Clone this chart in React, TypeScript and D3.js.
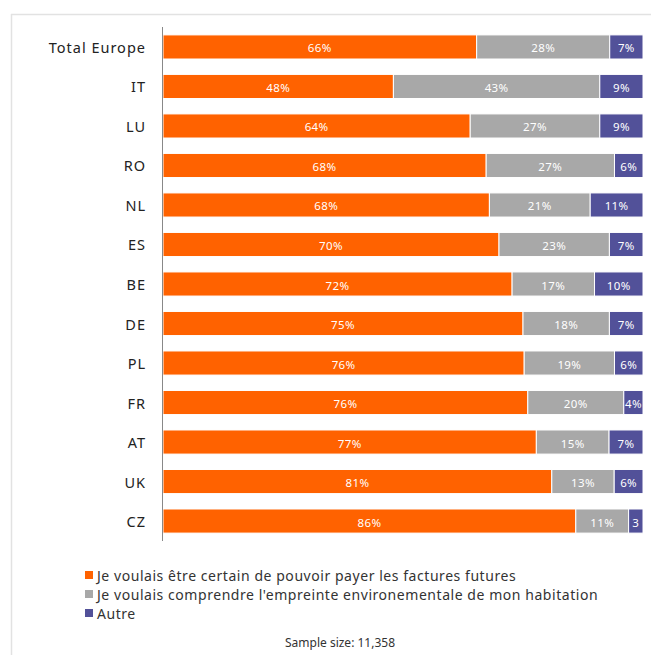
import React from "react";
import * as d3 from "d3";

const categories = ["Total Europe", "IT", "LU", "RO", "NL", "ES", "BE", "DE", "PL", "FR", "AT", "UK", "CZ"];
const certain = [66, 48, 64, 68, 68, 70, 72, 75, 76, 76, 77, 81, 86];
const understand = [28, 43, 27, 27, 21, 23, 17, 18, 19, 20, 15, 13, 11];
const other = [7, 9, 9, 6, 11, 7, 10, 7, 6, 4, 7, 6, 3];
const otherLabels = ["7%", "9%", "9%", "6%", "11%", "7%", "10%", "7%", "6%", "4%", "7%", "6%", "3"];
const seriesNames = [
  "Je voulais être certain de pouvoir payer les factures futures",
  "Je voulais comprendre l'empreinte environementale de mon habitation",
  "Autre",
];
const colors = ["#FF6200", "#A8A8A8", "#525199"];
const sampleText = "Sample size: 11,358";

const W = 651;
const H = 655;
const FONT = "'Noto Sans', 'Open Sans', sans-serif";

export default function App() {
  const x = d3.scaleLinear().domain([0, 1]).range([163, 643]);
  const y = d3.scaleBand().domain(categories).range([27, 541]).paddingInner(0.39).paddingOuter(0.2);

  const rows = categories.map((c, i) => {
    const vals = [certain[i], understand[i], other[i]];
    const labels = [`${certain[i]}%`, `${understand[i]}%`, otherLabels[i]];
    const total = d3.sum(vals);
    let acc = 0;
    const segs = vals.map((v, k) => {
      const x0 = acc / total;
      acc += v;
      const x1 = acc / total;
      return { k, x0, x1, label: labels[k] };
    });
    return { c, segs };
  });

  return (
    <div style={{ position: "absolute", left: 0, top: 0 }}>
      <svg width={W} height={H} style={{ display: "block", fontFamily: FONT }}>
        <rect x={0} y={0} width={W} height={H} fill="#fff" />
        <line x1={11} x2={W} y1={14.5} y2={14.5} stroke="#E2E2E2" strokeWidth={1.5} />
        <line x1={11.5} x2={11.5} y1={14} y2={H} stroke="#E2E2E2" strokeWidth={1.5} />
        {rows.map((r) => (
          <g key={r.c}>
            <text
              x={146}
              y={(y(r.c) as number) + y.bandwidth() / 2}
              textAnchor="end"
              dominantBaseline="central"
              fontSize={14.5}
              letterSpacing={1}
              fill="#222"
            >
              {r.c}
            </text>
            {r.segs.map((s) => (
              <g key={s.k}>
                <rect
                  x={x(s.x0)}
                  y={y(r.c)}
                  width={x(s.x1) - x(s.x0)}
                  height={y.bandwidth()}
                  fill={colors[s.k]}
                  stroke="#fff"
                  strokeWidth={1}
                />
                <text
                  x={(x(s.x0) + x(s.x1)) / 2}
                  y={(y(r.c) as number) + y.bandwidth() / 2 + 1}
                  textAnchor="middle"
                  dominantBaseline="central"
                  fontSize={11.5}
                  letterSpacing={0.4}
                  fill="#fff"
                >
                  {s.label}
                </text>
              </g>
            ))}
          </g>
        ))}
        <line x1={162.5} x2={162.5} y1={27} y2={541} stroke="#888" strokeWidth={1} />
        {seriesNames.map((n, i) => (
          <g key={n}>
            <rect x={85} y={571 + i * 19} width={8} height={8} fill={colors[i]} />
            <text x={97} y={575 + i * 19} dominantBaseline="central" fontSize={14} letterSpacing={0.55} fill="#333">
              {n}
            </text>
          </g>
        ))}
        <text x={340} y={642} textAnchor="middle" dominantBaseline="central" fontSize={12} fill="#333">
          {sampleText}
        </text>
      </svg>
    </div>
  );
}
